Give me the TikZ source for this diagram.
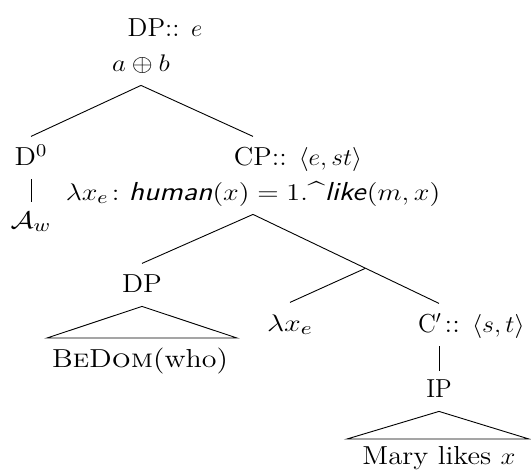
\documentclass[tikz,border=0pt]{standalone}
\usepackage{amsmath,amssymb,graphicx}
\usetikzlibrary{calc}
% widen a label horizontally by the given factor
\newcommand{\hstretch}[2]{\scalebox{#1}[1]{#2}}
\begin{document}
\begin{tikzpicture}[x=0.5pt,y=-0.5pt,
  lbl/.style={anchor=base, inner xsep=0pt, inner ysep=5.5pt,
    text height=8.6pt, text depth=1.5pt, font=\fontsize{13}{15}\selectfont},
  plain/.style={anchor=base, inner sep=0pt, font=\fontsize{13}{15}\selectfont},
  branch/.style={line width=0.45pt}]
\useasboundingbox (0,0) rectangle (531,473);

% labels of the tree
\node[plain] (dptop) at (165,36) {\hstretch{1.02}{DP:: $e$}};
\node[lbl] (sum) at (141,71) {\hstretch{1.12}{$a\oplus b$}};
\node[lbl] (d0) at (31,165) {\hstretch{1.1}{D$^0$}};
\node[lbl] (cp) at (298,165) {\hstretch{1.06}{CP:: $\langle e,st\rangle$}};
\node[lbl] (cpsem) at (253,200)
  {\hstretch{1.17}{$\lambda x_e\colon \textsf{\textit{human}}(x) = 1.\text{\^{}}\textsf{\textit{like}}(m,x)$}};
\node[lbl] (aw) at (31,228) {\hstretch{1.2}{$\mathcal{A}_w$}};
\node[lbl] (dp2) at (142,292) {\hstretch{1.08}{DP}};
\node[plain] (bedom) at (140,367) {\hstretch{1.15}{B\textsc{e}D\textsc{om}(who)}};
\node[lbl] (lam) at (290,331) {\hstretch{1.25}{$\lambda x_e$}};
\node[lbl] (cbar) at (430,332) {\hstretch{0.97}{C$'$}};
\node[plain, anchor=base west] (cbarty) at ([xshift=1pt]cbar.base east) {\hstretch{1.08}{:: $\langle s,t\rangle$}};
\node[lbl] (ip) at (439,397) {\hstretch{0.96}{IP}};
\node[plain] (mary) at (439,464) {\hstretch{1.11}{Mary likes $x$}};

% unlabelled branching point and triangle corners
\coordinate (cbartop) at (ip.north |- cbar.north);
\coordinate (bar) at ($(cpsem.south)!0.605!(cbartop)$);
\coordinate (dpL) at (47,338);
\coordinate (dpR) at (237,338);
\coordinate (ipL) at (347,439);
\coordinate (ipR) at (529,439);

% branches
\draw[branch] (sum.south) -- (d0.north);
\draw[branch] (sum.south) -- (cpsem.center |- cp.north);
\draw[branch, shorten >=-1.5pt] (d0.south) -- (d0.south |- aw.north);
\draw[branch] (cpsem.south) -- (dp2.north);
\draw[branch] (cpsem.south) -- (bar);
\draw[branch] (bar) -- (lam.north);
\draw[branch] (bar) -- (cbartop);
\draw[branch, shorten >=-1.5pt] (ip.north |- cbar.south) -- (ip.north);
\draw[branch] (dp2.south) -- (dpL) -- (dpR) -- cycle;
\draw[branch] (ip.south) -- (ipL) -- (ipR) -- cycle;
\end{tikzpicture}
\end{document}
